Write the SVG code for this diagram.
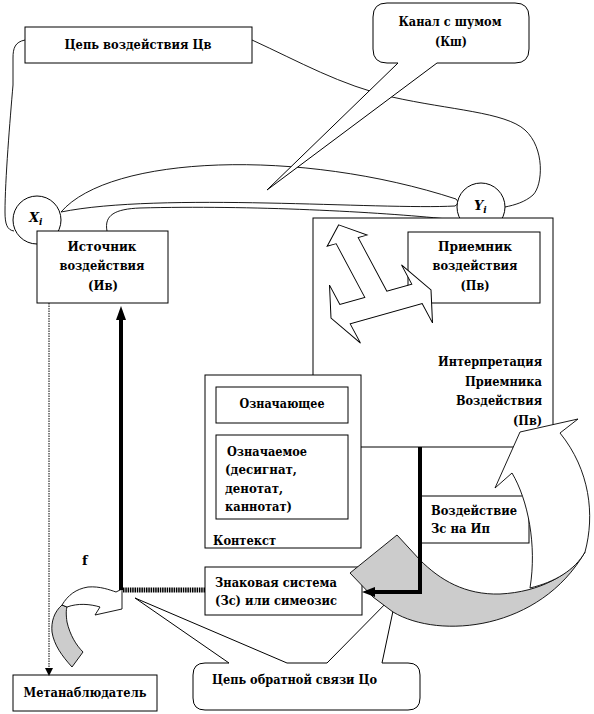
<svg xmlns="http://www.w3.org/2000/svg" width="594" height="714" viewBox="0 0 594 714" font-family="DejaVu Serif, Liberation Serif, serif">
<style>
.box{fill:#fff;stroke:#000;stroke-width:1}
.ln{fill:none;stroke:#000;stroke-width:0.9}
.t{font-weight:bold;font-size:13px;fill:#000}
.c{text-anchor:middle}
.r{text-anchor:end}
.thick{fill:none;stroke:#000;stroke-width:4}
</style>
<rect width="594" height="714" fill="#fff"/>
<g id="connectors">
<path class="ln" d="M252,40 C300,62 340,85 392,97 C450,110 505,112 525,130 C545,148 543,185 533,195 C525,202 515,205 505,207"/>
<path class="ln" d="M25,40 C15,42 13,48 13,58 L13,85 C10,120 5,180 5,212 C5,224 7,230 14,231"/>
<path class="ln" d="M61,212 C110,155 300,148 456,199 Q460,203 455,206 C380,210 160,192 61,212 Z"/>
<path class="ln" d="M107,231 C104,215 115,209 140,208 C250,205 380,212 447,219"/>
</g>
<g id="xi"><circle cx="37" cy="220" r="24" class="box"/><text class="t" x="29" y="222" font-style="italic">X<tspan font-size="9" dy="3">i</tspan></text></g>
<g id="yi"><circle cx="481" cy="207" r="24" class="box"/><text class="t" x="474" y="210" font-style="italic">Y<tspan font-size="9" dy="3">i</tspan></text></g>
<g id="cv"><rect class="box" x="25" y="27" width="227" height="36"/><text class="t c" x="138" y="49" textLength="147" lengthAdjust="spacingAndGlyphs">Цепь воздействия Цв</text></g>
<g id="interp"><rect class="box" x="313" y="218" width="240" height="229"/>
<text class="t r" x="542" y="366" textLength="104" lengthAdjust="spacingAndGlyphs">Интерпретация</text>
<text class="t r" x="542" y="386" textLength="77" lengthAdjust="spacingAndGlyphs">Приемника</text>
<text class="t r" x="542" y="405" textLength="86" lengthAdjust="spacingAndGlyphs">Воздействия</text>
<text class="t r" x="542" y="425" textLength="29" lengthAdjust="spacingAndGlyphs">(Пв)</text></g>
<g id="receiver"><rect class="box" x="408" y="232" width="132" height="71"/>
<text class="t c" x="475" y="251" textLength="74" lengthAdjust="spacingAndGlyphs">Приемник</text>
<text class="t c" x="475" y="270" textLength="85" lengthAdjust="spacingAndGlyphs">воздействия</text>
<text class="t c" x="475" y="290" textLength="29" lengthAdjust="spacingAndGlyphs">(Пв)</text></g>
<g id="source"><rect class="box" x="37" y="231" width="131" height="72"/>
<text class="t c" x="102" y="251" textLength="69" lengthAdjust="spacingAndGlyphs">Источник</text>
<text class="t c" x="102" y="270" textLength="85" lengthAdjust="spacingAndGlyphs">воздействия</text>
<text class="t c" x="103" y="290" textLength="30" lengthAdjust="spacingAndGlyphs">(Ив)</text></g>
<g id="threeway"><polygon fill="#fff" stroke="#000" stroke-width="0.9" transform="matrix(1.0,-0.28,0.47,0.88,381,304)" points="0,-90 20,-72 11,-72 11,-11 36,-11 36,-33 50,0 36,33 36,11 -36,11 -36,33 -50,0 -36,-33 -36,-11 -11,-11 -11,-72 -20,-72"/></g>
<g id="context"><rect class="box" x="205" y="375" width="156" height="173"/>
<text class="t" x="213" y="545" textLength="63" lengthAdjust="spacingAndGlyphs">Контекст</text></g>
<g id="signifier"><rect class="box" x="216" y="387" width="132" height="36"/><text class="t c" x="282" y="408" textLength="85" lengthAdjust="spacingAndGlyphs">Означающее</text></g>
<g id="signified"><rect class="box" x="216" y="435" width="132" height="84"/>
<text class="t" x="227" y="456" textLength="80" lengthAdjust="spacingAndGlyphs">Означаемое</text>
<text class="t" x="225" y="474" textLength="72" lengthAdjust="spacingAndGlyphs">(десигнат,</text>
<text class="t" x="225" y="493" textLength="58" lengthAdjust="spacingAndGlyphs">денотат,</text>
<text class="t" x="225" y="511" textLength="67" lengthAdjust="spacingAndGlyphs">каннотат)</text></g>
<g id="signsys"><rect class="box" x="205" y="567" width="157" height="48"/>
<text class="t" x="215" y="587" textLength="122" lengthAdjust="spacingAndGlyphs">Знаковая система</text>
<text class="t" x="215" y="605" textLength="122" lengthAdjust="spacingAndGlyphs">(Зс) или симеозис</text></g>
<g id="effect"><rect class="box" x="421" y="496" width="108" height="47"/>
<text class="t" x="431" y="515" textLength="86" lengthAdjust="spacingAndGlyphs">Воздействие</text>
<text class="t" x="431" y="533" textLength="59" lengthAdjust="spacingAndGlyphs">Зс на Ип</text></g>
<g id="meta"><rect class="box" x="13" y="675" width="144" height="36"/><text class="t c" x="85" y="697" textLength="123" lengthAdjust="spacingAndGlyphs">Метанаблюдатель</text></g>
<g id="channel"><path class="box" d="M387,3 H515 Q529,3 529,17 V49 Q529,63 515,63 H437 L267,190 L398,63 H387 Q373,63 373,49 V17 Q373,3 387,3 Z"/>
<text class="t c" x="450" y="26" textLength="103" lengthAdjust="spacingAndGlyphs">Канал с шумом</text>
<text class="t c" x="451" y="46" textLength="32" lengthAdjust="spacingAndGlyphs">(Кш)</text></g>
<g id="feedback"><path class="box" d="M205,663 H229 L135,598 L287,663 H327 L397,592 L382,663 H408 Q420,663 420,675 V698 Q420,710 408,710 H205 Q193,710 193,698 V675 Q193,663 205,663 Z"/>
<text class="t" x="212" y="684" textLength="165" lengthAdjust="spacingAndGlyphs">Цепь обратной связи Цо</text></g>
<g id="bigcurve">
<path fill="#cccccc" stroke="#000" stroke-width="0.9" d="M397,535 L350,573 L373,597 L393,612 C440,640 540,630 585,552 C570,575 540,592 500,594 C465,595 440,580 420,560 Z"/>
<path fill="#fff" stroke="#000" stroke-width="0.9" d="M578,419 L520,432 L495,488 L512,473 C528,500 537,545 530,588 C555,582 575,570 585,552 C595,515 590,470 560,433 Z"/>
</g>
<g id="smallcurve">
<path fill="#cccccc" stroke="#000" stroke-width="0.9" d="M62,605 C54,612 51,622 52,632 C54,645 62,656 72,667 L83,652 C76,645 70,635 67,622 C66,615 66,610 67,607 Z"/>
<path fill="#fff" stroke="#000" stroke-width="0.9" d="M62,605 C68,595 76,589 88,587 C100,586 110,590 116,592 L122,589 L122,609 L95,615 L100,607 C90,604 78,603 67,607 Z"/>
</g>
<g id="flow">
<line x1="49" y1="303" x2="49" y2="669" stroke="#000" stroke-width="1" stroke-dasharray="1.5 1"/>
<polygon points="49,676 45,668 53,668" fill="#000"/>
<path class="thick" d="M121,590 V318"/>
<polygon points="121,306 116,320 126,320" fill="#000"/>
<line x1="123" y1="590" x2="205" y2="590" stroke="#000" stroke-width="5" stroke-dasharray="1.5 0.8"/>
<path class="thick" d="M420,447 V592 H374"/>
<polygon points="362,592 375,587 375,597" fill="#000"/>
<text class="t" x="82" y="565" font-size="15">f</text>
</g>
</svg>
